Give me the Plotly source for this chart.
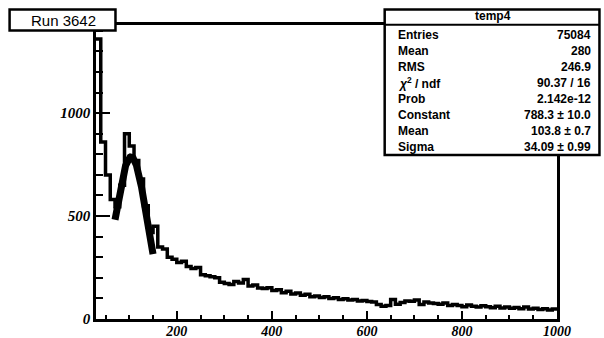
import numpy as np
import plotly.graph_objects as go

# ---- histogram "temp4": 10-unit bins from 30 to 1000 ----
bin_low = 30
bin_width = 10
counts = [
    1360, 860, 700, 580, 545, 650, 900, 840, 770, 680,
    550, 420, 450, 350, 340, 300, 290, 275, 280, 255,
    245, 250, 215, 210, 205, 200, 178, 172, 168, 182,
    175, 192, 160, 165, 150, 148, 152, 138, 142, 128,
    135, 122, 126, 115, 120, 108, 112, 104, 108, 100,
    103, 95, 98, 92, 95, 88, 90, 85, 82, 70,
    62, 65, 95, 72, 80, 88, 86, 92, 70, 82,
    78, 75, 72, 78, 65, 70, 66, 60, 68, 62,
    58, 64, 60, 55, 62, 54, 58, 52, 56, 50,
    58, 48, 52, 46, 50, 44, 48,
]

# ---- gaussian fit result ----
fit_constant = 788.3
fit_mean = 103.8
fit_sigma = 34.09
fit_range = (70, 150)

# ---- statistics box ----
stats_title = "temp4"
stats_labels = ["Entries", "Mean", "RMS", "<i>χ</i><sup>2</sup> / ndf", "Prob",
                "Constant", "Mean", "Sigma"]
stats_values = ["75084", "280", "246.9", "90.37 / 16", "2.142e-12",
                "788.3 ± 10.0", "103.8 ± 0.7", "34.09 ± 0.99"]

x_range = [30, 1000]
y_range = [0, 1428]
x_ticks = [200, 400, 600, 800, 1000]
y_ticks = [0, 500, 1000]

# canvas geometry (pixels)
W, H = 604, 338
L, R, T, B = 96, 557.5, 25, 319


def px(x):
    return (x - L) / (R - L)


def py(y):
    return (B - y) / (B - T)


edges = [bin_low + i * bin_width for i in range(len(counts) + 1)]
step_x = edges
step_y = counts + [counts[-1]]

xf = np.linspace(fit_range[0], fit_range[1], 200)
yf = fit_constant * np.exp(-0.5 * ((xf - fit_mean) / fit_sigma) ** 2)

fig = go.Figure()
fig.add_trace(go.Scatter(
    x=step_x, y=step_y, mode="lines", line_shape="hv",
    line=dict(color="black", width=3.5), hoverinfo="skip", showlegend=False,
))
fig.add_trace(go.Scatter(
    x=xf, y=yf, mode="lines",
    line=dict(color="black", width=7), hoverinfo="skip", showlegend=False,
))

x_tick_font = dict(family="Liberation Serif", size=14, color="black",
                   style="italic", weight="bold")
y_tick_font = dict(family="Liberation Serif", size=15, color="black",
                   style="italic", weight="bold")

fig.update_xaxes(
    range=x_range, tickmode="array", tickvals=x_ticks,
    ticktext=[f"<i>{v}</i>" for v in x_ticks],
    ticks="inside", ticklen=8, tickwidth=2, tickcolor="black",
    minor=dict(dtick=50, tick0=0, ticks="inside", ticklen=4, tickwidth=2,
               tickcolor="black", showgrid=False),
    showline=True, linewidth=2.5, linecolor="black", mirror=True,
    showgrid=False, zeroline=False, tickfont=x_tick_font, automargin=False,
    ticklabelstandoff=-3,
)
fig.update_yaxes(
    range=y_range, tickmode="array", tickvals=y_ticks,
    ticktext=[f"<i>{v}</i>" for v in y_ticks],
    ticks="inside", ticklen=14, tickwidth=2, tickcolor="black",
    minor=dict(dtick=100, tick0=0, ticks="inside", ticklen=7, tickwidth=2,
               tickcolor="black", showgrid=False),
    showline=True, linewidth=2.5, linecolor="black", mirror=True,
    showgrid=False, zeroline=False, tickfont=y_tick_font, automargin=False,
)

shapes = []
annotations = []

# title box
shapes.append(dict(type="rect", xref="paper", yref="paper", layer="above",
                   x0=px(9.5), x1=px(115.5), y0=py(30.5), y1=py(9.5),
                   line=dict(color="black", width=2.5), fillcolor="white"))
annotations.append(dict(xref="paper", yref="paper", x=px(63.5), y=py(20.5),
                        xanchor="center", yanchor="middle", showarrow=False,
                        text="Run 3642",
                        font=dict(family="Liberation Sans", size=15, color="black")))

# statistics box
sx0, sx1, sy0, sy1 = 385, 600, 9.5, 155
shapes.append(dict(type="rect", xref="paper", yref="paper", layer="above",
                   x0=px(sx0), x1=px(sx1), y0=py(sy1), y1=py(sy0),
                   line=dict(color="black", width=2.5), fillcolor="white"))
shapes.append(dict(type="line", xref="paper", yref="paper", layer="above",
                   x0=px(sx0), x1=px(sx1), y0=py(24.8), y1=py(24.8),
                   line=dict(color="black", width=2)))
annotations.append(dict(xref="paper", yref="paper", x=px(493), y=py(16),
                        xanchor="center", yanchor="middle", showarrow=False,
                        text=stats_title,
                        font=dict(family="Liberation Sans", size=12, color="black",
                                  weight="bold")))
stat_font = dict(family="Liberation Sans", size=12, color="black", weight="bold")
for k, (lab, val) in enumerate(zip(stats_labels, stats_values)):
    yk = 35 + 16.05 * k
    annotations.append(dict(xref="paper", yref="paper", x=px(396.5), y=py(yk),
                            xanchor="left", yanchor="middle", showarrow=False,
                            text=lab, font=stat_font))
    annotations.append(dict(xref="paper", yref="paper", x=px(593.5), y=py(yk),
                            xanchor="right", yanchor="middle", showarrow=False,
                            text=val, font=stat_font))

fig.update_layout(
    template="none",
    width=W, height=H,
    margin=dict(l=L, r=W - R, t=T, b=H - B, pad=0, autoexpand=False),
    paper_bgcolor="white", plot_bgcolor="white",
    shapes=shapes, annotations=annotations,
    showlegend=False,
)

fig.write_html("out.html")
